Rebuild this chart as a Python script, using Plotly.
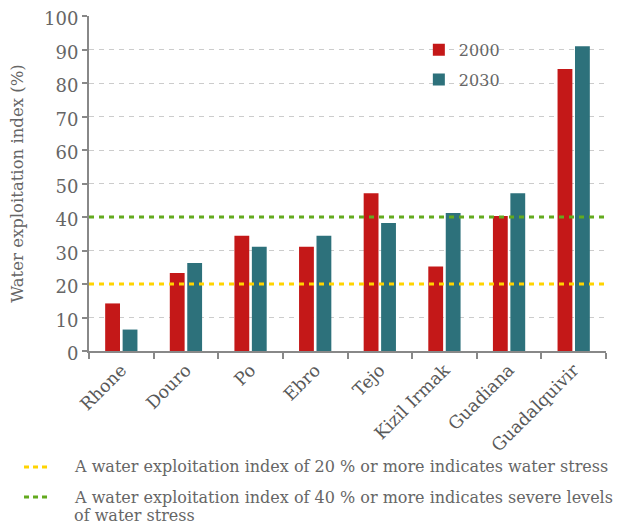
import plotly.graph_objects as go

rivers = ["Rhone", "Douro", "Po", "Ebro", "Tejo", "Kizil Irmak", "Guadiana", "Guadalquivir"]
values_2000 = [14.2, 23.3, 34.4, 31.1, 47.1, 25.2, 40.3, 84.2]
values_2030 = [6.4, 26.3, 31.1, 34.4, 38.2, 41.2, 47.1, 91.0]
thresholds = [20, 40]
threshold_colors = ["#ffd400", "#63aa1e"]
note_lines = [
    ["A water exploitation index of 20 % or more indicates water stress"],
    ["A water exploitation index of 40 % or more indicates severe levels",
     "of water stress"],
]

FONT = "DejaVu Serif"
GREY = "#666666"

fig = go.Figure()
fig.add_trace(go.Bar(name="2000", x=rivers, y=values_2000, marker_color="#c41818",
                     marker_line_width=0, legendgroup="a"))
fig.add_trace(go.Bar(name="2030", x=rivers, y=values_2030, marker_color="#2d717b",
                     marker_line_width=0, legendgroup="b"))

for t, c in zip(thresholds, threshold_colors):
    fig.add_shape(type="line", xref="paper", x0=0, x1=1, yref="y", y0=t, y1=t,
                  line=dict(color=c, width=3, dash="5px,5px"), layer="above")

# bottom notes (positions in paper units of the plot area)
swatch_y = [-0.346, -0.436]
line_y = [[-0.346], [-0.436, -0.490]]
for i, c in enumerate(threshold_colors):
    fig.add_shape(type="line", xref="paper", yref="paper",
                  x0=-0.1257, x1=-0.0754, y0=swatch_y[i], y1=swatch_y[i],
                  line=dict(color=c, width=3, dash="5px,4px"))
    for txt, yy in zip(note_lines[i], line_y[i]):
        fig.add_annotation(xref="paper", yref="paper", x=-0.0329, y=yy,
                           text=txt, showarrow=False, xanchor="left", yanchor="middle",
                           align="left", font=dict(family=FONT, size=16, color=GREY))

fig.update_layout(
    width=616, height=516,
    margin=dict(l=81, r=18, t=8, b=173, autoexpand=False),
    paper_bgcolor="white", plot_bgcolor="white",
    barmode="group", bargap=0.46, bargroupgap=0.15,
    font=dict(family=FONT, color=GREY, size=16),
    showlegend=True,
    legend=dict(x=0.638, y=0.95, xanchor="left", yanchor="top",
                font=dict(family=FONT, size=16, color=GREY),
                bgcolor="rgba(255,255,255,0)", itemwidth=30,
                traceorder="grouped", tracegroupgap=6),
    xaxis=dict(showline=True, linecolor="#888888", linewidth=2, ticks="outside",
               tickson="boundaries", ticklen=6, tickcolor="#888888", tickwidth=1.5,
               tickangle=-45,
               tickfont=dict(family=FONT, size=17.5, color="#595959"),
               showgrid=False, automargin=False),
    yaxis=dict(range=[0, 100], dtick=10, showline=True, linecolor="#888888", linewidth=2,
               ticks="outside", ticklen=5, tickcolor="#888888", tickwidth=1.5,
               tickfont=dict(family=FONT, size=18, color=GREY),
               ticklabeloverflow="allow", ticklabelshift=3,
               showgrid=True, gridcolor="#cccccc", griddash="5px,5px", gridwidth=1,
               zeroline=False, automargin=False,
               title=dict(text="Water exploitation index (%)", standoff=17,
                          font=dict(family=FONT, size=16.5, color=GREY))),
)

fig.write_html("out.html")
